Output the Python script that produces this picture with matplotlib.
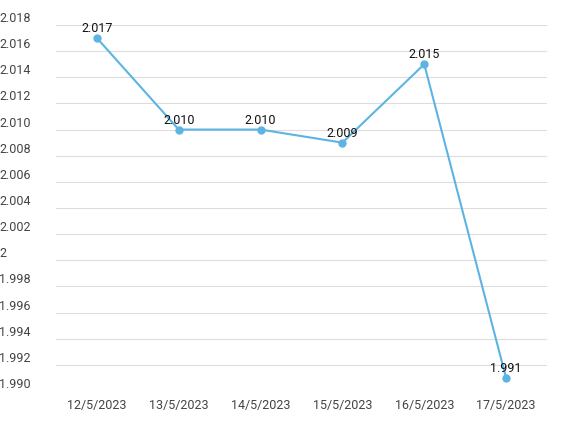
import matplotlib
matplotlib.use("Agg")
import matplotlib.pyplot as plt

dates = ["12/5/2023", "13/5/2023", "14/5/2023", "15/5/2023", "16/5/2023", "17/5/2023"]
values = [2.017, 2.010, 2.010, 2.009, 2.015, 1.991]
labels = ["2.017", "2.010", "2.010", "2.009", "2.015", "1.991"]
yticks = [1.990, 1.992, 1.994, 1.996, 1.998, 2.000, 2.002, 2.004, 2.006, 2.008, 2.010, 2.012, 2.014, 2.016, 2.018]
yticklabels = ["1.990", "1.992", "1.994", "1.996", "1.998", "2", "2.002", "2.004", "2.006", "2.008", "2.010", "2.012", "2.014", "2.016", "2.018"]

plt.rcParams['font.family'] = ['Roboto', 'DejaVu Sans']
fig = plt.figure(figsize=(5.69, 4.34), dpi=100)
ax = fig.add_axes([56/569, 1-391/434, (547-56)/569, (391-25)/434])
x = list(range(len(dates)))
ax.plot(x, values, color="#5db4e3", lw=1.5, marker="o", ms=5, zorder=3)
for xi, v, l in zip(x, values, labels):
    ax.annotate(l, (xi, v), xytext=(0, 2), textcoords="offset points", ha="center", va="bottom", fontsize=9, color="#111111", zorder=4)
ax.set_xlim(-0.5, len(dates)-0.5)
ax.set_ylim(1.990, 2.018)
ax.set_yticks(yticks)
ax.set_yticklabels(yticklabels, ha="left", va="bottom")
ax.set_xticks(x)
ax.set_xticklabels(dates)
ax.tick_params(axis="y", length=0, pad=41, labelsize=9, labelcolor="#444444")
ax.tick_params(axis="x", length=0, pad=6, labelsize=9, labelcolor="#444444")
ax.grid(axis="y", color="#dddddd", lw=0.8)
for s in ["top", "right", "left", "bottom"]:
    ax.spines[s].set_visible(False)
fig.savefig("out.png", dpi=100)
